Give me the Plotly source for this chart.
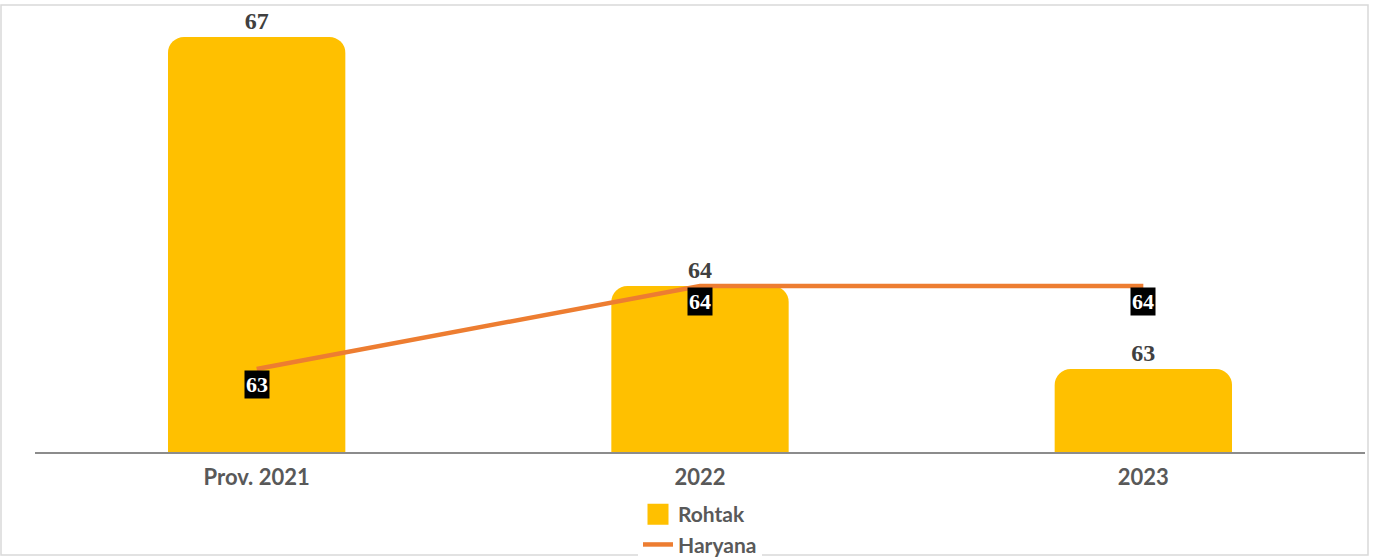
import plotly.graph_objects as go

categories = ["Prov. 2021", "2022", "2023"]
rohtak = [67, 64, 63]
haryana = [63, 64, 64]

BAR_COLOR = "#FFC000"
LINE_COLOR = "#ED7D31"

fig = go.Figure()
fig.add_trace(go.Bar(
    x=categories, y=rohtak, name="Rohtak", showlegend=False, legendgroup="r",
    marker=dict(color=BAR_COLOR, cornerradius=16, line=dict(width=0)),
    text=[str(v) for v in rohtak], textposition="outside",
    textfont=dict(family="Liberation Serif", size=24, color="#404040", weight="bold"),
    cliponaxis=False,
))
# legend entry for Rohtak with a larger square swatch
fig.add_trace(go.Scatter(
    x=[None], y=[None], name="Rohtak", mode="markers", legendgroup="r",
    marker=dict(symbol="square", size=16, color=BAR_COLOR,
                line=dict(color=BAR_COLOR, width=5)),
))
fig.add_trace(go.Scatter(
    x=categories, y=haryana, name="Haryana", mode="lines", legendgroup="h",
    line=dict(color=LINE_COLOR, width=4.5),
    cliponaxis=False,
))

# data labels for the line (category index on the category axis)
for i, v in enumerate(haryana):
    fig.add_annotation(
        x=i, y=v, xref="x", yref="y", text="<b>%d</b>" % v, showarrow=False,
        yshift=-16, bgcolor="black", borderpad=1,
        font=dict(family="Liberation Serif", size=22, color="white"),
    )

fig.update_layout(
    width=1375, height=557,
    margin=dict(l=35, r=10, t=12, b=105, autoexpand=False),
    paper_bgcolor="white", plot_bgcolor="white",
    bargap=0.6,
    showlegend=True,
    legend=dict(
        orientation="v", x=0.5, xanchor="center",
        yref="container", y=1 - 494 / 557, yanchor="top",
        font=dict(family="Lato", size=21, color="#595959", weight="bold"),
        tracegroupgap=0, itemwidth=30,
    ),
    xaxis=dict(
        type="category", automargin=False, range=[-0.5, len(categories) - 0.5],
        showgrid=False, showline=True, linecolor="#8c8c8c", linewidth=2,
        ticks="outside", ticklen=5, tickcolor="rgba(0,0,0,0)",
        tickfont=dict(family="Lato", size=22, color="#595959", weight="bold"),
    ),
    yaxis=dict(range=[62, 67.3], visible=False, showgrid=False, automargin=False),
    shapes=[dict(
        type="rect", xref="paper", yref="paper",
        x0=(1 - 35) / 1330, x1=(1368 - 35) / 1330,
        y0=(452 - 555) / 440, y1=(452 - 5) / 440,
        line=dict(color="#d9d9d9", width=1.5), fillcolor="rgba(0,0,0,0)", layer="below",
    )],
)

fig.write_html("out.html", config={"displayModeBar": False},
               post_script="document.body.style.margin='0';")
